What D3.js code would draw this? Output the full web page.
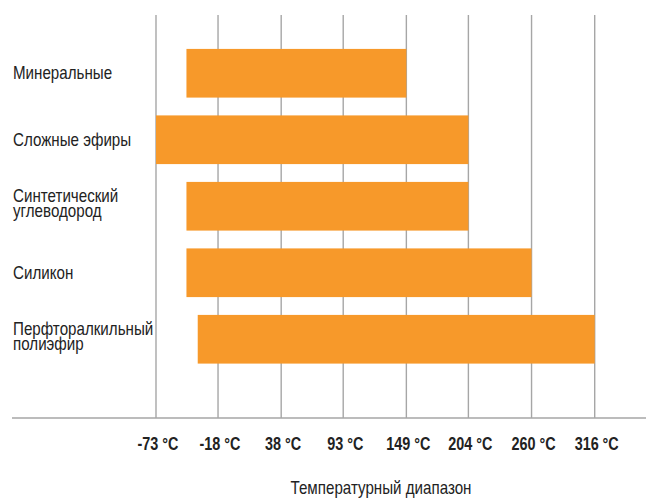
<!DOCTYPE html>
<html>
<head>
<meta charset="utf-8">
<script src="https://cdn.jsdelivr.net/npm/d3@7"></script>
<style>
  body { margin: 0; background: #fff; }
  text { font-family: "Liberation Sans", Arial, sans-serif; }
</style>
</head>
<body>
<div id="vis1" style="width:646px;height:498px;"></div>
<script>
/*
Data
*/

// each category can have two lines
const categories = [
    ["Минеральные"],
    ["Сложные эфиры"],
    ["Синтетический", "углеводород"],
    ["Силикон"],
    ["Перфторалкильный", "полиэфир"]
];
const minTemp = [-46, -73, -46, -46, -36];
const maxTemp = [149, 204, 204, 260, 316];

const tickValues = [-73, -18, 38, 93, 149, 204, 260, 316];
const tickLabels = ["-73 °C", "-18 °C", "38 °C", "93 °C", "149 °C", "204 °C", "260 °C", "316 °C"];
const axisTitle = "Температурный диапазон";

/*
Size constants
*/

const WIDTH = 646;
const HEIGHT = 498;
const NARROW = 0.866; // the original font is a condensed one

const svg = d3.select("#vis1")
                .append("svg")
                .attr("width", WIDTH)
                .attr("height", HEIGHT);

/*
Scales
*/

const x = d3.scaleLinear()
            .domain([-73, 316])
            .range([156, 594.7]);

const y = d3.scaleBand()
            .domain(d3.range(categories.length))
            .range([40, 372.5])
            .paddingInner(0.268)
            .paddingOuter(0.134);

// grid lines
svg.append("g")
    .selectAll("line")
    .data(tickValues)
    .enter()
    .append("line")
    .attr("x1", d => x(d))
    .attr("x2", d => x(d))
    .attr("y1", 15)
    .attr("y2", 418)
    .attr("stroke", "#a6a6a6")
    .attr("stroke-width", 1.4);

// baseline
svg.append("line")
    .attr("x1", 12)
    .attr("x2", WIDTH)
    .attr("y1", 418)
    .attr("y2", 418)
    .attr("stroke", "#a6a6a6")
    .attr("stroke-width", 1.4);

// bars
svg.append("g")
    .selectAll("rect")
    .data(categories)
    .enter()
    .append("rect")
    .attr("x", (d, i) => x(minTemp[i]))
    .attr("width", (d, i) => x(maxTemp[i]) - x(minTemp[i]))
    .attr("y", (d, i) => y(i))
    .attr("height", y.bandwidth())
    .attr("fill", "#f7992a");

// category labels
const labels = svg.append("g")
    .selectAll("text")
    .data(categories)
    .enter()
    .append("text")
    .attr("transform", (d, i) => `translate(13, ${y(i) + y.bandwidth() / 2 + 6 - (d.length - 1) * 10}) scale(${NARROW}, 1)`)
    .attr("font-size", 17.5)
    .attr("fill", "#222");

labels.selectAll("tspan")
    .data(d => d)
    .enter()
    .append("tspan")
    .attr("x", 0)
    .attr("dy", (d, i) => i === 0 ? 0 : 15)
    .text(d => d);

// tick labels
svg.append("g")
    .selectAll("text")
    .data(tickValues)
    .enter()
    .append("text")
    .attr("transform", d => `translate(${x(d) + 2}, 450) scale(0.8, 1)`)
    .attr("text-anchor", "middle")
    .attr("font-size", 18)
    .attr("font-weight", "bold")
    .attr("fill", "#222")
    .text((d, i) => tickLabels[i]);

// axis title
svg.append("text")
    .attr("transform", `translate(381, 494) scale(${NARROW}, 1)`)
    .attr("text-anchor", "middle")
    .attr("font-size", 17.5)
    .attr("fill", "#222")
    .text(axisTitle);
</script>
</body>
</html>
